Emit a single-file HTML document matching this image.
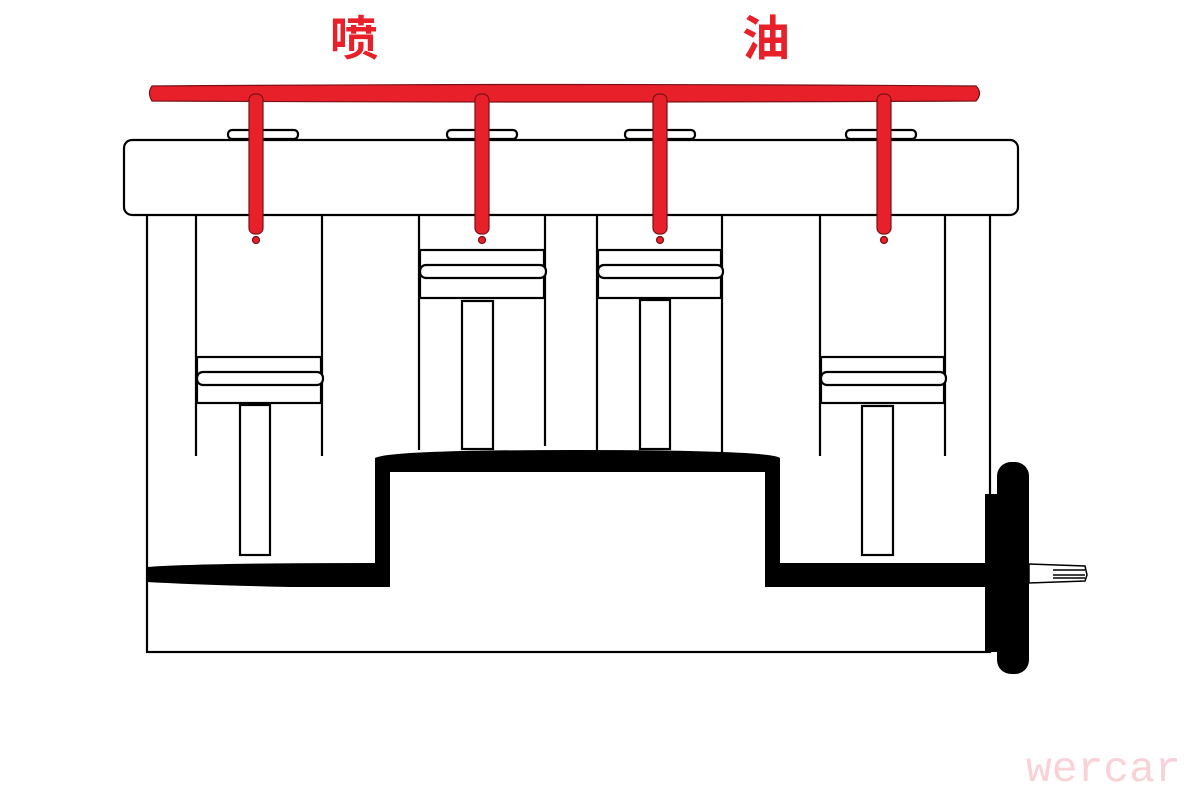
<!DOCTYPE html>
<html><head><meta charset="utf-8"><style>
html,body{margin:0;padding:0;background:#fff;width:1200px;height:795px;overflow:hidden}
</style></head><body>
<svg width="1200" height="795" viewBox="0 0 1200 795" xmlns="http://www.w3.org/2000/svg">
<rect width="1200" height="795" fill="#fff"/>
<text x="330" y="55" font-family="Liberation Sans, Noto Sans CJK SC, sans-serif" font-size="48" font-weight="bold" fill="#e8202a">喷</text>
<text x="742" y="55" font-family="Liberation Sans, Noto Sans CJK SC, sans-serif" font-size="48" font-weight="bold" fill="#e8202a">油</text>
<text x="1026" y="781" font-family="Liberation Mono, monospace" font-size="43" fill="#f8d2d7">wercar</text>

<g fill="#fff" stroke="#000" stroke-width="2.2">
<rect x="228" y="130" width="70" height="9" rx="4"/>
<rect x="447" y="130" width="70" height="9" rx="4"/>
<rect x="625" y="130" width="70" height="9" rx="4"/>
<rect x="846" y="130" width="70" height="9" rx="4"/>
<rect x="147" y="214" width="843" height="438"/>
<rect x="124" y="140" width="894" height="75" rx="8"/>
</g>
<g stroke="#000" stroke-width="2.2" fill="#fff">
<line x1="196" y1="215" x2="196" y2="456"/><line x1="322" y1="215" x2="322" y2="456"/>
<line x1="419" y1="215" x2="419" y2="450"/><line x1="545" y1="215" x2="545" y2="446"/>
<line x1="597" y1="215" x2="597" y2="452"/><line x1="722" y1="215" x2="722" y2="452"/>
<line x1="820" y1="215" x2="820" y2="456"/><line x1="945" y1="215" x2="945" y2="456"/>
<rect x="197" y="357" width="124" height="46"/><rect x="197" y="372" width="126" height="13" rx="6"/>
<rect x="240" y="405" width="30" height="150"/>
<rect x="420" y="250" width="124" height="48"/><rect x="420" y="265" width="126" height="13" rx="6"/>
<rect x="462" y="301" width="31" height="148"/>
<rect x="598" y="250" width="123" height="48"/><rect x="598" y="265" width="125" height="13" rx="6"/>
<rect x="640" y="300" width="30" height="149"/>
<rect x="821" y="357" width="123" height="46"/><rect x="821" y="372" width="125" height="13" rx="6"/>
<rect x="862" y="406" width="31" height="149"/>
</g>
<g fill="#000">
<path d="M147 567 Q200 563 375 563 L375 458 Q390 450 575 450 Q770 450 780 458 L780 563 L1000 563 L1000 587 L765 587 L765 472 L390 472 L390 587 L290 587 Q200 585 147 582 Z"/>
<rect x="985" y="494" width="16" height="158"/>
<rect x="997" y="462" width="32" height="212" rx="14"/>
</g>
<path d="M1029 564 L1085 566 L1087 575 L1085 581 L1029 583 Z" fill="#fff" stroke="#000" stroke-width="1.5"/>
<line x1="1053" y1="570" x2="1085" y2="570" stroke="#000" stroke-width="1.5"/>
<line x1="1053" y1="575" x2="1085" y2="575" stroke="#000" stroke-width="1.5"/>
<line x1="1053" y1="578" x2="1085" y2="578" stroke="#000" stroke-width="1.5"/>

<g fill="#e8202a" stroke="#7a1016" stroke-width="1.2">
<path d="M152 86 Q560 83 976 86 Q983 93 976 101 Q560 103 152 101 Q147 93 152 86 Z"/>
<rect x="249" y="94" width="14" height="140" rx="6"/>
<rect x="475" y="94" width="14" height="140" rx="6"/>
<rect x="653" y="94" width="14" height="140" rx="6"/>
<rect x="877" y="94" width="14" height="140" rx="6"/>
<circle cx="256" cy="240" r="3.5"/>
<circle cx="482" cy="240" r="3.5"/>
<circle cx="660" cy="240" r="3.5"/>
<circle cx="884" cy="240" r="3.5"/>
</g>
</svg>
</body></html>
